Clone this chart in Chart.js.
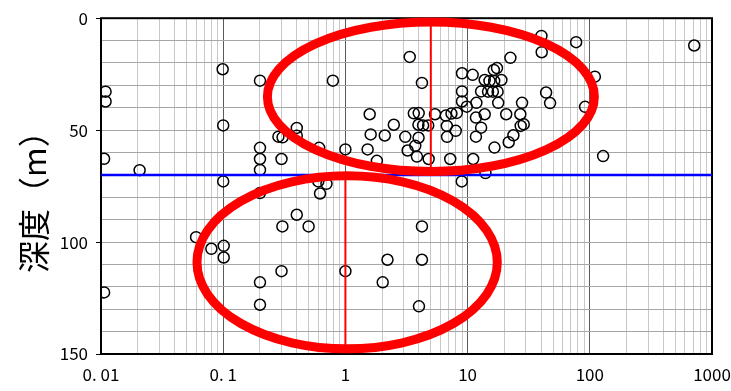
<!DOCTYPE html>
<html>
<head>
<meta charset="utf-8">
<script src="https://cdn.jsdelivr.net/npm/chart.js@4.4.1/dist/chart.umd.min.js"></script>
<style>
  html, body { margin: 0; padding: 0; background: #fff; }
  #wrap { width: 731px; height: 391px; }
</style>
</head>
<body>
<div id="wrap"><canvas id="depthChart"></canvas></div>
<script>
// measured values (x on log axis, depth in m)
const xValues = [
  0.0109, 0.0109, 0.0106, 0.0106, 0.0207, 0.099, 0.1, 0.1, 0.101, 0.101,
  0.080, 0.060, 0.2, 0.2, 0.2, 0.2, 0.2, 0.2, 0.2, 0.283,
  0.306, 0.40, 0.40, 0.30, 0.40, 0.305, 0.50, 0.30, 0.61, 0.60,
  0.70, 0.62, 0.79, 1.0, 1.0, 1.52, 1.58, 1.61, 2.10, 1.81,
  2.21, 2.02, 2.49, 3.09, 3.23, 3.85, 3.73, 3.97, 3.36, 4.23,
  3.63, 3.98, 3.96, 4.32, 4.76, 4.80, 5.41, 6.63, 7.38, 8.16,
  6.76, 6.79, 8.0, 7.21, 9.0, 11.0, 9.0, 9.0, 9.85, 11.8,
  11.7, 11.7, 11.1, 8.96, 13.8, 12.9, 14.0, 13.8, 15.1, 16.5,
  18.9, 16.4, 17.4, 12.9, 14.7, 16.1, 17.6, 17.8, 16.6, 20.7,
  22.4, 21.7, 23.7, 27.0, 27.9, 27.2, 28.8, 40.2, 40.4, 43.9,
  47.3, 77.3, 110, 91.5, 128.5, 715, 4.23, 4.23, 4.0
];
const depthValues = [
  32.8, 37.2, 62.8, 122.5, 67.9, 22.8, 47.9, 72.9, 101.7, 106.9,
  103, 97.8, 27.9, 57.9, 62.9, 67.8, 78.1, 118, 128, 52.9,
  53.2, 49, 52.5, 62.9, 87.8, 93, 93, 113, 57.9, 72.9,
  74, 78.3, 27.9, 58.6, 113, 58.6, 42.9, 51.9, 52.4, 63.7,
  107.9, 118, 47.6, 53, 59.1, 61.8, 57, 53.4, 17.3, 28.9,
  42.5, 42.4, 47.6, 47.9, 47.9, 62.9, 42.9, 43.5, 42.6, 42.3,
  48.1, 53, 50.3, 62.9, 24.6, 25.3, 32.7, 37.2, 39.5, 37.8,
  44.4, 52.9, 62.9, 72.9, 42.9, 48.9, 69.2, 27.6, 28, 28,
  27.6, 23.1, 22.3, 32.7, 32.8, 32.8, 32.8, 37.8, 57.8, 42.9,
  17.7, 55.4, 52.3, 42.9, 37.8, 48.1, 47.4, 7.9, 15.2, 33.2,
  37.9, 10.7, 26.1, 39.6, 61.6, 12.2, 93, 107.9, 128.7
];

const xTickValues = [0.01, 0.1, 1, 10, 100, 1000];
const xTickLabels = ['0. 01', '0. 1', '1', '10', '100', '1000'];
const yTickLabels = [0, 50, 100, 150];

// blue boundary line and the two circled groups
const boundaryDepth = 70;
const groupCenterX = [5, 1];
const groupRangeX = [[0.23, 109], [0.061, 17.5]];
const groupRangeY = [[1.7, 68.5], [70.4, 147.7]];

const points = xValues.map((x, i) => ({ x: x, y: depthValues[i] }));

const isDecade = v => Math.abs(Math.log10(v) - Math.round(Math.log10(v))) < 1e-9;
const tickFont = { family: '"Noto Sans CJK JP", sans-serif', size: 17 };

// frame around the plot + ellipses on top
const overlayPlugin = {
    id: 'overlay',
    beforeDatasetsDraw(chart) {
        const { ctx, chartArea: a } = chart;
        ctx.save();
        ctx.strokeStyle = '#000';
        ctx.lineWidth = 2;
        ctx.strokeRect(a.left, a.top, a.right - a.left, a.bottom - a.top);
        ctx.restore();
    },
    afterDatasetsDraw(chart) {
        const { ctx, scales: { x, y } } = chart;
        ctx.save();
        ctx.strokeStyle = '#ff0000';
        ctx.lineWidth = 9;
        groupRangeX.forEach((rx, i) => {
            const x0 = x.getPixelForValue(rx[0]);
            const x1 = x.getPixelForValue(rx[1]);
            const y0 = y.getPixelForValue(groupRangeY[i][0]);
            const y1 = y.getPixelForValue(groupRangeY[i][1]);
            ctx.beginPath();
            ctx.ellipse((x0 + x1) / 2, (y0 + y1) / 2, Math.abs(x1 - x0) / 2, Math.abs(y1 - y0) / 2, 0, 0, Math.PI * 2);
            ctx.stroke();
        });
        ctx.restore();
    }
};

const ctx = document.getElementById('depthChart').getContext('2d');
new Chart(ctx, {
    type: 'scatter',
    data: {
        datasets: [
            {
                label: 'data',
                data: points,
                order: 3,
                pointStyle: 'circle',
                pointRadius: 5.5,
                borderColor: '#000',
                borderWidth: 1.5,
                backgroundColor: 'rgba(0,0,0,0)'
            },
            {
                type: 'line',
                label: 'boundary',
                data: [{ x: xTickValues[0], y: boundaryDepth }, { x: xTickValues[xTickValues.length - 1], y: boundaryDepth }],
                order: 2,
                borderColor: '#0000ff',
                borderWidth: 2.5,
                pointRadius: 0
            },
            ...groupCenterX.map((cx, i) => ({
                type: 'line',
                label: 'center' + i,
                data: [{ x: cx, y: groupRangeY[i][0] }, { x: cx, y: groupRangeY[i][1] }],
                order: 1,
                borderColor: '#ff0000',
                borderWidth: 2,
                pointRadius: 0
            }))
        ]
    },
    options: {
        responsive: true,
        maintainAspectRatio: false,
        animation: false,
        layout: {
            padding: { top: 18, right: 19, left: 0, bottom: 0 }
        },
        plugins: {
            legend: { display: false },
            tooltip: { enabled: false }
        },
        scales: {
            x: {
                type: 'logarithmic',
                min: 0.01,
                max: 1000,
                afterBuildTicks: scale => {
                    const ticks = [];
                    for (let e = -2; e < 3; e++) {
                        for (let m = 1; m < 10; m++) {
                            ticks.push({ value: Number((m * Math.pow(10, e)).toPrecision(3)) });
                        }
                    }
                    ticks.push({ value: 1000 });
                    scale.ticks = ticks;
                },
                afterFit: scale => {
                    scale.height = 37;
                    // let the last label hang past the plot edge like the original
                    scale.paddingRight = 0;
                    scale.paddingLeft = 0;
                },
                border: { display: false },
                grid: {
                    drawTicks: false,
                    lineWidth: 1,
                    color: c => isDecade(c.tick.value) ? '#5a5a5a' : '#c8c8c8'
                },
                ticks: {
                    autoSkip: false,
                    maxRotation: 0,
                    padding: 10,
                    color: '#000',
                    font: tickFont,
                    callback: value => {
                        const i = xTickValues.findIndex(t => Math.abs(t - value) < 1e-9);
                        return i >= 0 ? xTickLabels[i] : '';
                    }
                }
            },
            y: {
                reverse: true,
                min: 0,
                max: 150,
                afterFit: scale => { scale.width = 101; },
                border: { display: false },
                grid: {
                    color: '#a6a6a6',
                    lineWidth: 1,
                    tickLength: 5,
                    tickColor: c => yTickLabels.includes(c.tick.value) ? '#000' : 'rgba(0,0,0,0)'
                },
                ticks: {
                    stepSize: 10,
                    autoSkip: false,
                    padding: 8,
                    color: '#000',
                    font: tickFont,
                    callback: value => yTickLabels.includes(value) ? value : ''
                },
                title: {
                    display: true,
                    text: '深度（m）　',
                    color: '#000',
                    padding: { top: 15, bottom: 0 },
                    font: { family: '"Noto Sans CJK JP", sans-serif', size: 32 }
                }
            }
        }
    },
    plugins: [overlayPlugin]
});
</script>
</body>
</html>
